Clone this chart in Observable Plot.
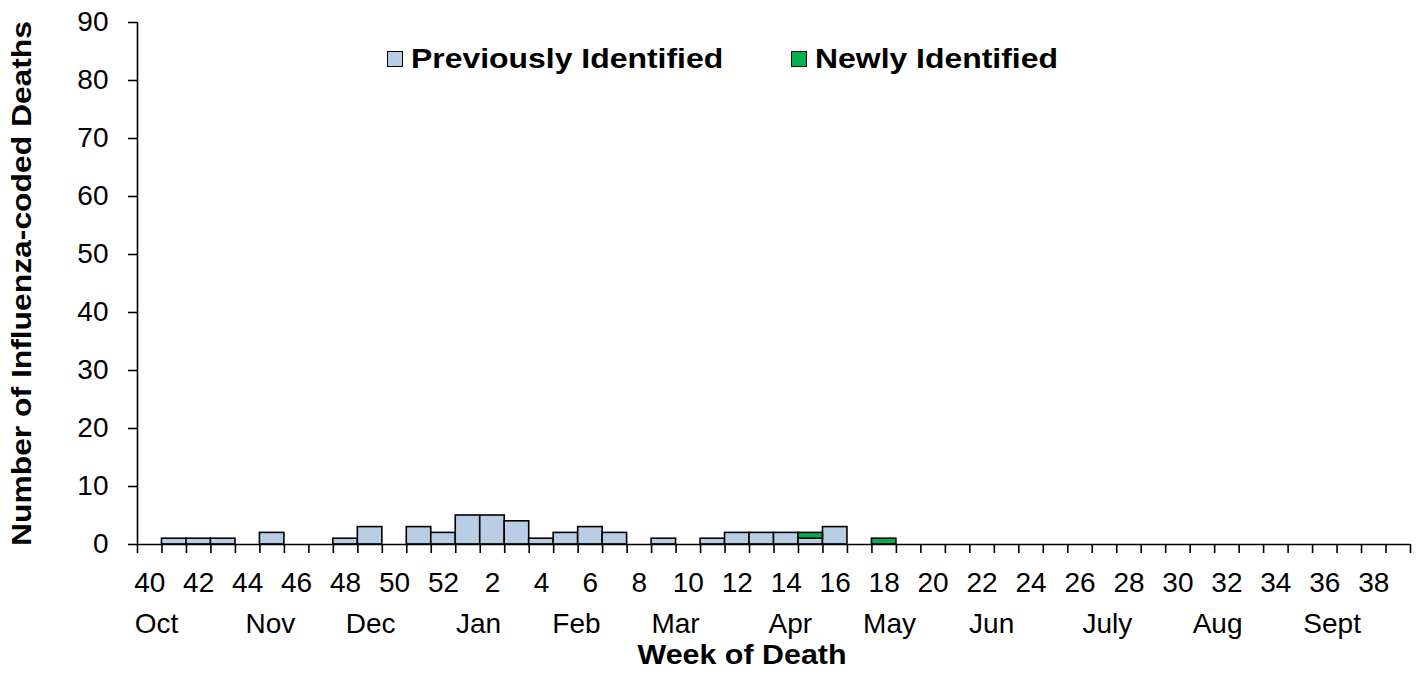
<!DOCTYPE html>
<html><head><meta charset="utf-8">
<script src="https://cdn.jsdelivr.net/npm/d3@7"></script>
<script src="https://cdn.jsdelivr.net/npm/@observablehq/plot@0.6"></script>
<style>
body{margin:0;background:#fff;}
#wrap{position:relative;width:1424px;height:682px;overflow:hidden;}
.leg{position:absolute;top:59px;transform:translateY(-50%);display:flex;align-items:center;font:bold 28px Arial,"Liberation Sans",sans-serif;color:#000;white-space:nowrap;}
.sw{width:14px;height:14px;border:1.5px solid #000;margin-right:8px;flex:none;}
.lt{display:inline-block;transform:scaleX(1.14);transform-origin:left center;}
</style></head><body><div id="wrap"></div>
<script>
const weeks = [40,41,42,43,44,45,46,47,48,49,50,51,52,1,2,3,4,5,6,7,8,9,10,11,12,13,14,15,16,17,18,19,20,21,22,23,24,25,26,27,28,29,30,31,32,33,34,35,36,37,38,39];
const previouslyIdentified = [0,1,1,1,0,2,0,0,1,3,0,3,2,5,5,4,1,2,3,2,0,1,0,1,2,2,2,1,3,0,0,0,0,0,0,0,0,0,0,0,0,0,0,0,0,0,0,0,0,0,0,0];
const newlyIdentified =      [0,0,0,0,0,0,0,0,0,0,0,0,0,0,0,0,0,0,0,0,0,0,0,0,0,0,0,1,0,0,1,0,0,0,0,0,0,0,0,0,0,0,0,0,0,0,0,0,0,0,0,0];
const weekTickLabels = [40,42,44,46,48,50,52,2,4,6,8,10,12,14,16,18,20,22,24,26,28,30,32,34,36,38];
const months = ["Oct","Nov","Dec","Jan","Feb","Mar","Apr","May","Jun","July","Aug","Sept"];
const monthWeekPos = [0.78,5.43,9.52,13.93,17.93,21.98,26.67,30.72,34.89,39.62,44.12,48.8];
const yTicks = [0,10,20,30,40,50,60,70,80,90];
const seriesNames = ["Previously Identified","Newly Identified"];
const seriesColors = ["#B9CDE5","#00B050"];
const xTitle = "Week of Death";
const yTitle = "Number of Influenza-coded Deaths";

const rows = weeks.map((w,i)=>({week:w, i, prev:previouslyIdentified[i], newly:newlyIdentified[i]}));
const font = 'Arial, "Liberation Sans", sans-serif';

const chart = Plot.plot({
  width:1424, height:682,
  marginLeft:137, marginRight:14, marginTop:22, marginBottom:138,
  style:{fontSize:"28px", fontFamily:font, background:"#fff", color:"#000"},
  x:{domain:[0,weeks.length]},
  y:{domain:[0,90]},
  marks:[
    Plot.rect(rows.filter(d=>d.prev>0), {x1:"i", x2:d=>d.i+1, y1:0, y2:"prev", fill:seriesColors[0], stroke:"#000", strokeWidth:1.6}),
    Plot.rect(rows.filter(d=>d.newly>0), {x1:"i", x2:d=>d.i+1, y1:"prev", y2:d=>d.prev+d.newly, fill:seriesColors[1], stroke:"#000", strokeWidth:1.6}),
    Plot.ruleY([0], {strokeWidth:1.6}),
    Plot.ruleX([0], {y1:0, y2:90, strokeWidth:1.6}),
    Plot.axisY({ticks:yTicks, tickSize:9, tickPadding:20, strokeWidth:1.6, label:null, fontSize:28}),
    Plot.axisX({ticks:d3.range(0,weeks.length+1), tickSize:9, tickFormat:()=>"", strokeWidth:1.6, label:null}),
    Plot.text(weekTickLabels, {x:w=>weeks.indexOf(w)+0.5, y:0, dy:39, fontSize:28, lineAnchor:"middle"}),
    Plot.text(months, {x:(m,i)=>monthWeekPos[i], y:0, dy:80, fontSize:28, lineAnchor:"middle"}),
    Plot.text([xTitle], {frameAnchor:"bottom", textAnchor:"middle", dx:-32, dy:111, fontWeight:"bold", fontSize:28, lineAnchor:"middle"}),
    Plot.text([yTitle], {frameAnchor:"left", textAnchor:"middle", rotate:-90, dx:-115, fontWeight:"bold", fontSize:28, lineAnchor:"middle"})
  ]
});
const wrap = document.getElementById("wrap");
wrap.appendChild(chart);
d3.select(chart).selectAll("text").each(function(){
  if (this.textContent === xTitle) { this.setAttribute("textLength", 209); this.setAttribute("lengthAdjust", "spacingAndGlyphs"); }
  if (this.textContent === yTitle) { this.setAttribute("textLength", 525); this.setAttribute("lengthAdjust", "spacingAndGlyphs"); }
});
const legLeft = [387, 791];
seriesNames.forEach((n,k)=>{
  const d = document.createElement("div");
  d.className="leg"; d.style.left = legLeft[k]+"px";
  const s = document.createElement("span"); s.className="sw"; s.style.background=seriesColors[k];
  const t = document.createElement("span"); t.className="lt"; t.textContent=n;
  d.appendChild(s); d.appendChild(t); wrap.appendChild(d);
});
</script>
</body></html>
